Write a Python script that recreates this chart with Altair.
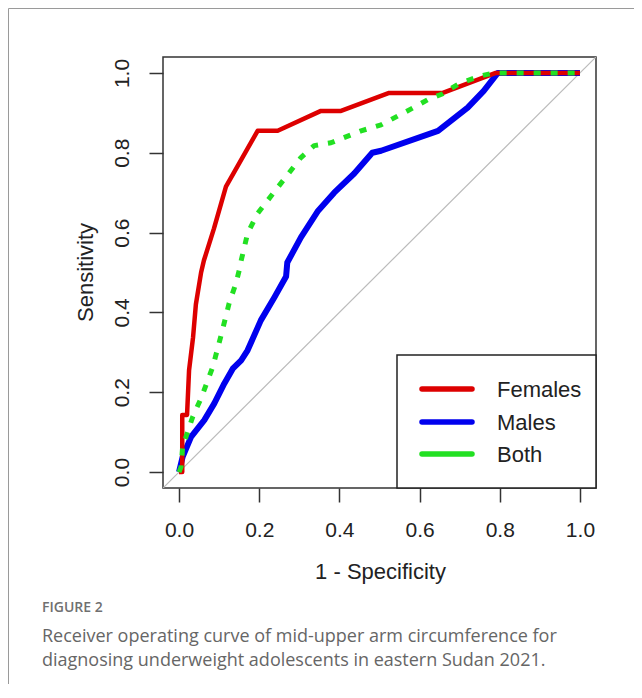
import altair as alt
import pandas as pd

# ---- data ----
series_names = ["Females", "Males", "Both"]
series_colors = ["#DD0000", "#0000EE", "#22E022"]

females_x = [0.000, 0.008, 0.008, 0.020, 0.025, 0.035, 0.042, 0.055, 0.062, 0.087, 0.117,
             0.196, 0.246, 0.354, 0.404, 0.524, 0.658, 0.790, 1.000]
females_y = [0.000, 0.000, 0.143, 0.143, 0.255, 0.338, 0.420, 0.500, 0.530, 0.610, 0.715,
             0.855, 0.855, 0.905, 0.905, 0.950, 0.950, 1.000, 1.000]

males_x = [0.000, 0.009, 0.030, 0.063, 0.088, 0.113, 0.134, 0.155, 0.171, 0.204, 0.238,
           0.267, 0.270, 0.304, 0.347, 0.387, 0.437, 0.482, 0.504, 0.646, 0.720, 0.760,
           0.795, 1.000]
males_y = [0.000, 0.038, 0.088, 0.130, 0.172, 0.222, 0.259, 0.280, 0.305, 0.380, 0.438,
           0.490, 0.525, 0.588, 0.655, 0.700, 0.748, 0.800, 0.805, 0.855, 0.913, 0.955,
           1.000, 1.000]

both_x = [0.000, 0.005, 0.009, 0.034, 0.055, 0.084, 0.105, 0.125, 0.142, 0.150, 0.155,
          0.171, 0.196, 0.246, 0.304, 0.337, 0.379, 0.454, 0.504, 0.579, 0.624, 0.658,
          0.698, 0.753, 0.785, 1.000]
both_y = [0.000, 0.013, 0.063, 0.138, 0.185, 0.263, 0.343, 0.423, 0.473, 0.505, 0.530,
          0.598, 0.648, 0.713, 0.788, 0.818, 0.825, 0.855, 0.870, 0.910, 0.935, 0.948,
          0.973, 0.993, 1.000, 1.000]

diag = [-0.04, 1.04]
tick_values = [0.0, 0.2, 0.4, 0.6, 0.8, 1.0]
x_title = "1 - Specificity"
y_title = "Sensitivity"
fig_label = "FIGURE 2"
caption_lines = ["Receiver operating curve of mid-upper arm circumference for",
                 "diagnosing underweight adolescents in eastern Sudan 2021."]

# ---- build ----
W, H = 433, 431
FONT = "Liberation Sans"
dom = [-0.04, 1.04]

xs = alt.Scale(domain=dom, nice=False, zero=False)
ys = alt.Scale(domain=dom, nice=False, zero=False)

xaxis = alt.Axis(values=tick_values, format=".1f", title=x_title, grid=False, domain=False,
                 tickSize=14, tickWidth=1.5, tickColor="#333", labelBaseline="middle",
                 labelPadding=28, labelFontSize=21, labelColor="#222", titleFontSize=22,
                 titleFontWeight="normal", titleColor="#222", titleX=217, titleY=83,
                 titleBaseline="middle", titleAlign="center", labelFlush=False)
yaxis = alt.Axis(values=tick_values, format=".1f", title=y_title, grid=False, domain=False,
                 tickSize=14, tickWidth=1.5, tickColor="#333", labelAngle=270,
                 labelAlign="center", labelBaseline="middle", labelPadding=27,
                 labelFontSize=21, labelColor="#222", titleFontSize=22,
                 titleFontWeight="normal", titleColor="#222", titleX=-78, titleY=215,
                 titleAngle=270, titleBaseline="middle", titleAlign="center", labelFlush=False)

diag_df = pd.DataFrame({"x": diag, "y": diag})
base_diag = alt.Chart(diag_df).mark_line(color="#BBBBBB", strokeWidth=1.2, clip=True).encode(
    x=alt.X("x:Q", scale=xs, axis=xaxis),
    y=alt.Y("y:Q", scale=ys, axis=yaxis),
)

def curve(xv, yv, idx, width, dash=None):
    df = pd.DataFrame({"x": xv, "y": yv, "o": list(range(len(xv))),
                       "s": [series_names[idx]] * len(xv)})
    kw = dict(color=series_colors[idx], strokeWidth=width, strokeJoin="round")
    if dash:
        kw["strokeDash"] = dash
        kw["strokeCap"] = "butt"
    return alt.Chart(df).mark_line(**kw).encode(
        x=alt.X("x:Q", scale=xs), y=alt.Y("y:Q", scale=ys), order="o:Q")

males_l = curve(males_x, males_y, 1, 6)
females_l = curve(females_x, females_y, 0, 4.5)
both_l = curve(both_x, both_y, 2, 5, dash=[7, 10])

# legend (drawn like R's legend box)
leg_box = alt.Chart(pd.DataFrame({"a": [0]})).mark_rect(
    fill="white", stroke="#222", strokeWidth=1.5).encode(
    x=alt.value(234), x2=alt.value(433), y=alt.value(298), y2=alt.value(431))
leg_layers = [leg_box]
leg_y = [332, 365, 397]
for i, name in enumerate(series_names):
    d = pd.DataFrame({"s": [name]})
    leg_layers.append(alt.Chart(d).mark_rule(color=series_colors[i], strokeWidth=5.5,
                                             strokeCap="round").encode(
        x=alt.value(259), x2=alt.value(309), y=alt.value(leg_y[i])))
    leg_layers.append(alt.Chart(d).mark_text(font=FONT, fontSize=22, color="#222",
                                             align="left", baseline="middle").encode(
        text="s:N", x=alt.value(334), y=alt.value(leg_y[i] + 1)))

# outer frame and caption
frame_l = alt.Chart(pd.DataFrame({"a": [0]})).mark_rule(color="#9A9A9A", strokeWidth=1).encode(
    x=alt.value(-154.5), y=alt.value(-48.5), y2=alt.value(700))
frame_t = alt.Chart(pd.DataFrame({"a": [0]})).mark_rule(color="#9A9A9A", strokeWidth=1).encode(
    x=alt.value(-154.5), x2=alt.value(480), y=alt.value(-48.5))
fig_t = alt.Chart(pd.DataFrame({"t": [fig_label]})).mark_text(
    font="Open Sans", fontSize=14, fontWeight=600, color="#707070", align="left",
    baseline="middle").encode(text="t:N", x=alt.value(-121), y=alt.value(551))
cap_layers = []
for i, line in enumerate(caption_lines):
    cap_layers.append(alt.Chart(pd.DataFrame({"t": [line]})).mark_text(
        font="Open Sans", fontSize=18, color="#666666", align="left",
        baseline="middle").encode(text="t:N", x=alt.value(-121), y=alt.value(580 + 24 * i)))

chart = alt.layer(base_diag, males_l, females_l, both_l, *leg_layers, frame_l, frame_t,
                  fig_t, *cap_layers).properties(
    width=W, height=H,
    autosize=alt.AutoSizeParams(type="none"),
    padding={"left": 155, "top": 49, "right": 38, "bottom": 196},
    background="white",
).configure_view(stroke="#333", strokeWidth=1.5).configure_axis(
    labelFont=FONT, titleFont=FONT)

chart.save("out.html", embed_options={"renderer": "svg", "actions": False})
